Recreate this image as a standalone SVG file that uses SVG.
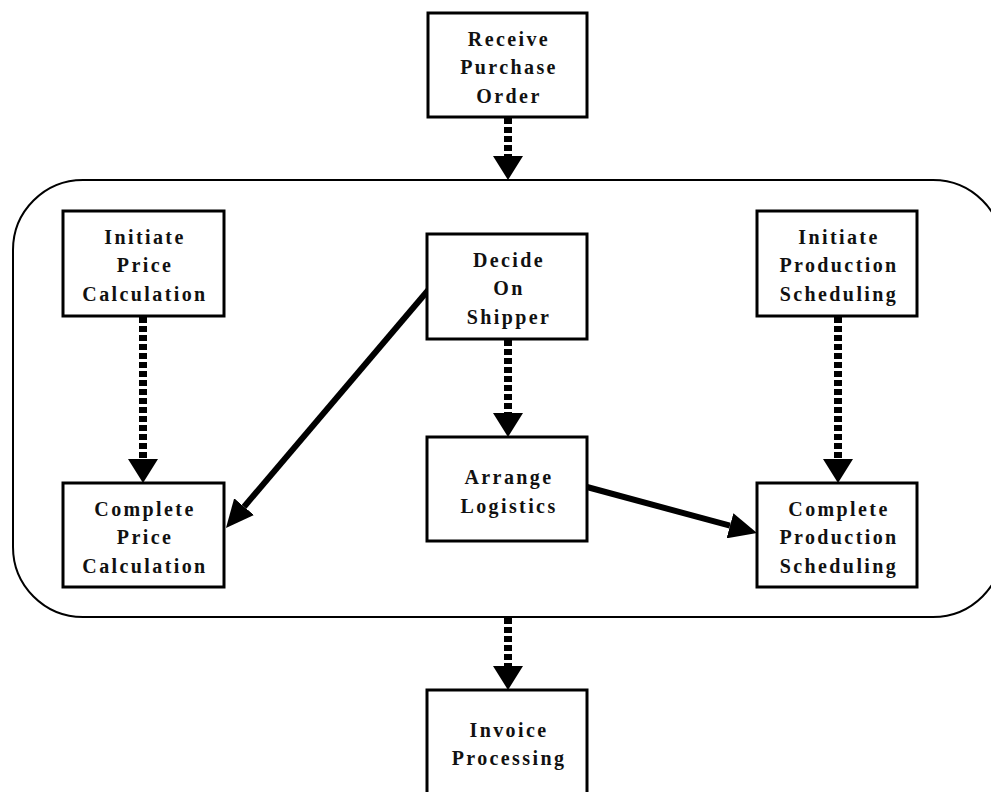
<svg xmlns="http://www.w3.org/2000/svg" width="991" height="792" viewBox="0 0 991 792">
<style>
.box{fill:#fff;stroke:#000;stroke-width:3}
.lbl{font-family:'Liberation Serif','DejaVu Serif','Times New Roman',serif;font-weight:700;font-size:20px;letter-spacing:2.4px;text-anchor:middle;fill:#111}
.dash{fill:none;stroke:#000;stroke-width:8;stroke-dasharray:6 3}
.solid{fill:none;stroke:#000;stroke-width:6}
</style>
<defs>
<marker id="dhead" viewBox="0 0 24 30" refX="0" refY="15" markerWidth="24" markerHeight="30" markerUnits="userSpaceOnUse" orient="auto">
<path d="M0,0 L24,15 L0,30 Z" fill="#000"/>
</marker>
<marker id="shead" viewBox="0 0 28 26" refX="0" refY="13" markerWidth="28" markerHeight="26" markerUnits="userSpaceOnUse" orient="auto">
<path d="M0,0 L28,13 L0,26 Z" fill="#000"/>
</marker>
</defs>
<rect id="container" x="13" y="180" width="990" height="437" rx="70" ry="70" fill="none" stroke="#000" stroke-width="2"/>
<g id="connectors">
<line class="dash" x1="508" y1="118" x2="508" y2="156" marker-end="url(#dhead)"/>
<line class="dash" x1="143" y1="317" x2="143" y2="459" marker-end="url(#dhead)"/>
<line class="dash" x1="508" y1="340" x2="508" y2="413" marker-end="url(#dhead)"/>
<line class="dash" x1="838" y1="317" x2="838" y2="459" marker-end="url(#dhead)"/>
<line class="dash" x1="508" y1="618" x2="508" y2="666" marker-end="url(#dhead)"/>
<line class="solid" x1="430" y1="288" x2="244.1" y2="506.7" marker-end="url(#shead)"/>
<line class="solid" x1="587" y1="487" x2="730" y2="525.7" marker-end="url(#shead)"/>
</g>
<g id="receive-po">
<rect class="box" x="428" y="13" width="159" height="104"/>
<text class="lbl" x="509" y="45.5">Receive</text>
<text class="lbl" x="509" y="74">Purchase</text>
<text class="lbl" x="509" y="102.5">Order</text>
</g>
<g id="initiate-price">
<rect class="box" x="63" y="211" width="161" height="105"/>
<text class="lbl" x="145" y="244">Initiate</text>
<text class="lbl" x="145" y="272">Price</text>
<text class="lbl" x="145" y="301">Calculation</text>
</g>
<g id="decide-shipper">
<rect class="box" x="427" y="234" width="160" height="105"/>
<text class="lbl" x="509" y="267">Decide</text>
<text class="lbl" x="509" y="295">On</text>
<text class="lbl" x="509" y="324">Shipper</text>
</g>
<g id="initiate-production">
<rect class="box" x="757" y="211" width="160" height="105"/>
<text class="lbl" x="839" y="244">Initiate</text>
<text class="lbl" x="839" y="272">Production</text>
<text class="lbl" x="839" y="301">Scheduling</text>
</g>
<g id="complete-price">
<rect class="box" x="63" y="483" width="161" height="104"/>
<text class="lbl" x="145" y="515.5">Complete</text>
<text class="lbl" x="145" y="543.5">Price</text>
<text class="lbl" x="145" y="572.5">Calculation</text>
</g>
<g id="arrange-logistics">
<rect class="box" x="427" y="437" width="160" height="104"/>
<text class="lbl" x="509" y="484">Arrange</text>
<text class="lbl" x="509" y="513">Logistics</text>
</g>
<g id="complete-production">
<rect class="box" x="757" y="483" width="160" height="104"/>
<text class="lbl" x="839" y="515.5">Complete</text>
<text class="lbl" x="839" y="543.5">Production</text>
<text class="lbl" x="839" y="572.5">Scheduling</text>
</g>
<g id="invoice-processing">
<rect class="box" x="427" y="690" width="160" height="104"/>
<text class="lbl" x="509" y="737">Invoice</text>
<text class="lbl" x="509" y="765">Processing</text>
</g>
</svg>
